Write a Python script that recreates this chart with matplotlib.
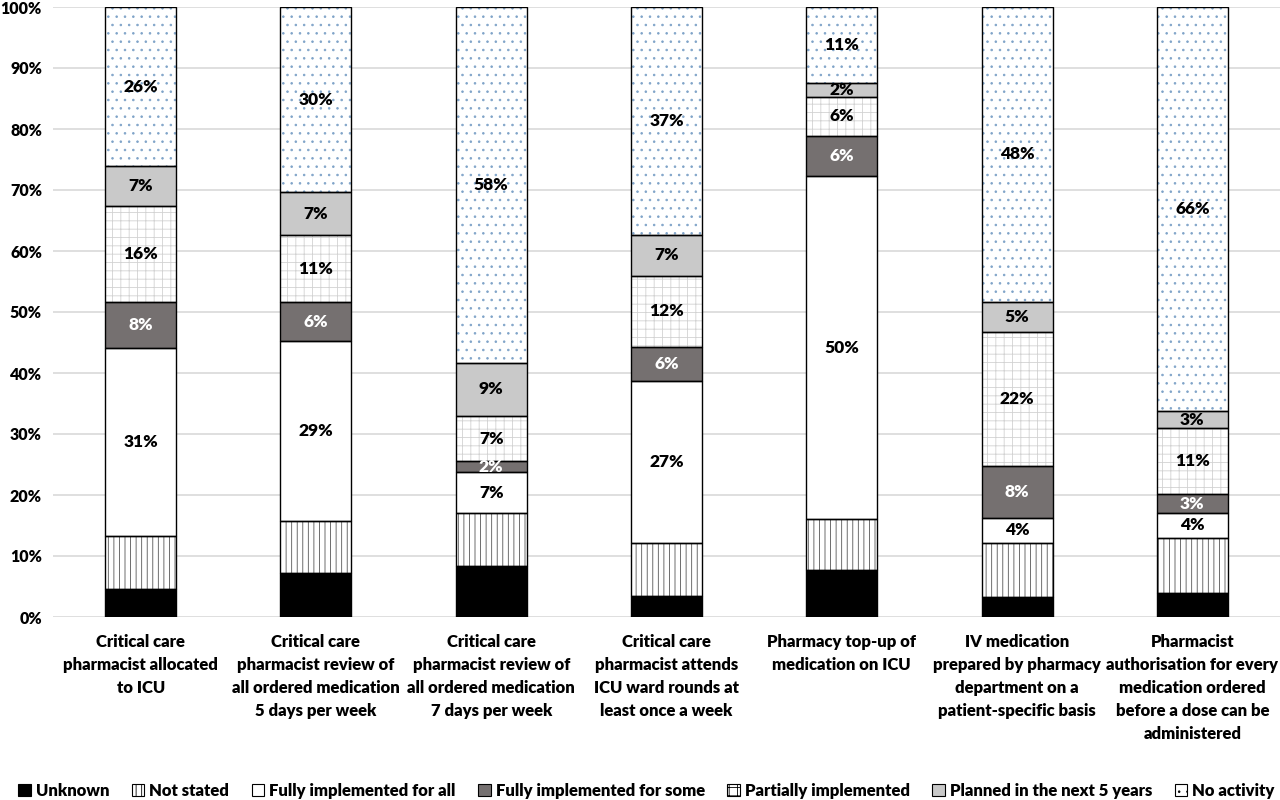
import matplotlib
matplotlib.use("Agg")
import matplotlib.pyplot as plt
from matplotlib.patches import Patch
import numpy as np

plt.rcParams['font.family'] = ['Lato', 'DejaVu Sans']
plt.rcParams['font.weight'] = 'heavy'
plt.rcParams['hatch.linewidth'] = 0.6

categories = [
    "Critical care\npharmacist allocated\nto ICU",
    "Critical care\npharmacist review of\nall ordered medication\n5 days per week",
    "Critical care\npharmacist review of\nall ordered medication\n7 days per week",
    "Critical care\npharmacist attends\nICU ward rounds at\nleast once a week",
    "Pharmacy top-up of\nmedication on ICU",
    "IV medication\nprepared by pharmacy\ndepartment on a\npatient-specific basis",
    "Pharmacist\nauthorisation for every\nmedication ordered\nbefore a dose can be\nadministered",
]

series_names = ["Unknown", "Not stated", "Fully implemented for all",
                "Fully implemented for some", "Partially implemented",
                "Planned in the next 5 years", "No activity"]

unknown     = [4.6, 7.2, 8.4, 3.4, 7.7, 3.2, 4.0]
not_stated  = [8.7, 8.6, 8.6, 8.7, 8.3, 8.9, 8.9]
full_all    = [30.8, 29.4, 6.7, 26.6, 56.3, 4.2, 4.2]
full_some   = [7.6, 6.4, 1.9, 5.6, 6.6, 8.4, 3.0]
partial     = [15.6, 11.0, 7.3, 11.6, 6.3, 22.1, 10.9]
planned     = [6.6, 7.0, 8.8, 6.8, 2.3, 4.9, 2.7]
no_activity = [26.1, 30.4, 58.3, 37.3, 12.5, 48.3, 66.3]

# printed data labels (as shown on the chart)
full_all_lbl  = [31, 29, 7, 27, 50, 4, 4]
full_some_lbl = [8, 6, 2, 6, 6, 8, 3]
partial_lbl   = [16, 11, 7, 12, 6, 22, 11]
planned_lbl   = [7, 7, 9, 7, 2, 5, 3]
no_act_lbl    = [26, 30, 58, 37, 11, 48, 66]

series = [unknown, not_stated, full_all, full_some, partial, planned, no_activity]
labels = [None, None, full_all_lbl, full_some_lbl, partial_lbl, planned_lbl, no_act_lbl]

faces   = ['black', 'white', 'white', '#757070', 'white', '#c9c9c9', 'white']
hatches = [None, '|||', None, None, '++', None, '..']
hcolors = ['black', '#555555', 'white', '#757070', '#d2d2d2', '#c9c9c9', '#7fa3c8']
txtcol  = [None, None, 'black', 'white', 'black', 'black', 'black']

fig = plt.figure(figsize=(12.8, 8), dpi=100)
ax = fig.add_axes([53/1280, 1 - 617/800, 1227/1280, 610/800])

x = np.arange(len(categories))
width = 0.405
bottom = np.zeros(len(categories))
for vals, face, h, hc, lbls, tc in zip(series, faces, hatches, hcolors, labels, txtcol):
    vals = np.array(vals)
    ax.bar(x, vals, width, bottom=bottom, color=face, edgecolor=hc, hatch=h,
           linewidth=0, zorder=2)
    ax.bar(x, vals, width, bottom=bottom, fill=False, edgecolor='black',
           linewidth=1.0, zorder=3)
    if lbls is not None:
        for xi, v, b, l in zip(x, vals, bottom, lbls):
            ax.text(xi, b + v / 2, f"{l}%", ha='center', va='center',
                    color=tc, fontsize=12.5, fontweight='heavy', zorder=4)
    bottom += vals

ax.set_xlim(-0.5, len(categories) - 0.5)
ax.set_ylim(0, 100)
ax.set_yticks(np.arange(0, 101, 10))
ax.set_yticklabels([f"{v}%" for v in range(0, 101, 10)], fontsize=11.5, fontweight='heavy')
ax.set_xticks(x)
ax.set_xticklabels(categories, fontsize=12, fontweight='heavy', linespacing=1.55, va='top')
ax.tick_params(axis='both', length=0)
ax.tick_params(axis='x', pad=12)
ax.tick_params(axis='y', pad=8)
ax.yaxis.grid(True, color='#d9d9d9', linewidth=1.2)
ax.set_axisbelow(True)
for s in ax.spines.values():
    s.set_visible(False)

handles = []
for name, face, h in zip(series_names, faces, hatches):
    handles.append(Patch(facecolor=face, edgecolor='black', hatch=h, linewidth=0.8, label=name))
leg = fig.legend(handles=handles, loc='lower center', ncol=7, frameon=False,
                 bbox_to_anchor=(0.505, -0.017), handlelength=0.75,
                 handleheight=0.75, handletextpad=0.3, columnspacing=1.35,
                 prop={'weight': 'heavy', 'size': 12})

fig.savefig("out.png", dpi=100)
